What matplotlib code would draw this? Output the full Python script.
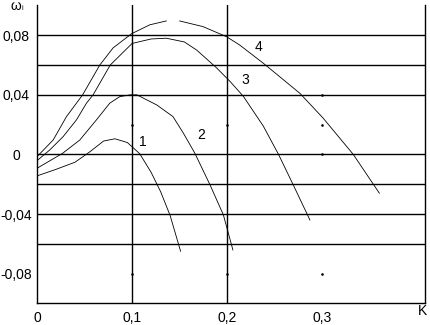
import numpy as np
import matplotlib.pyplot as plt

plt.rcParams['font.family'] = ['Liberation Sans', 'DejaVu Sans']

# curves 1..4 : omega_i (K)
k1 = [0, 0.020, 0.040, 0.055, 0.070, 0.082, 0.095, 0.108, 0.120, 0.130, 0.140, 0.151]
w1 = [-0.0144, -0.0100, -0.0052, 0.0015, 0.0090, 0.0105, 0.0080, 0.0005, -0.0120, -0.0250, -0.0410, -0.0650]

k2 = [0, 0.027, 0.045, 0.0625, 0.0765, 0.087, 0.098, 0.105, 0.126, 0.143, 0.154, 0.166, 0.182, 0.196, 0.206]
w2 = [-0.0093, 0.0008, 0.0097, 0.0232, 0.0344, 0.0388, 0.0400, 0.0400, 0.0332, 0.0254, 0.0142, 0.0008, -0.0205, -0.0406, -0.0641]

k3 = [0, 0.0134, 0.0274, 0.0415, 0.052, 0.059, 0.077, 0.100, 0.120, 0.136, 0.155, 0.168, 0.189, 0.203, 0.217, 0.238, 0.254, 0.2695, 0.287]
w3 = [-0.0042, 0.0030, 0.0119, 0.0232, 0.0344, 0.0400, 0.0600, 0.0745, 0.0775, 0.0780, 0.0755, 0.0700, 0.0580, 0.0490, 0.0390, 0.0190, 0.0, -0.0205, -0.0440]

# gap in curve 4 near its top, as in the original
k4 = [0, 0.017, 0.031, 0.048, 0.066, 0.080, 0.0994, 0.1186, 0.136, np.nan, 0.150, 0.1745, 0.1994, 0.213, 0.238, 0.2765, 0.301, 0.3326, 0.360]
w4 = [-0.0015, 0.0097, 0.0254, 0.0400, 0.0600, 0.0715, 0.0810, 0.0870, 0.0896, np.nan, 0.0896, 0.0858, 0.0790, 0.0735, 0.0612, 0.0410, 0.0243, 0.0, -0.0260]

curve_names = ['1', '2', '3', '4']
label_pos = [(0.111, 0.0083), (0.173, 0.013), (0.2186, 0.050), (0.233, 0.072)]

hlines = [0.08, 0.06, 0.04, 0, -0.02, -0.04, -0.06]
vlines = [0.1, 0.2]
yticks = [0.08, 0.04, 0, -0.04, -0.08]
ylabels = ['0,08', '0,04', '0', '-0,04', '-0,08']
xticks = [0, 0.1, 0.2, 0.3]
xlabels = ['0', '0,1', '0,2', '0,3']

fig = plt.figure(figsize=(4.3, 3.25), dpi=100)
ax = fig.add_axes([37 / 430, 22 / 325, 388 / 430, 298 / 325])
ax.set_xlim(0, 0.408)
ax.set_ylim(-0.0997, 0.1003)

for y in hlines:
    ax.axhline(y, color='black', lw=1.0, zorder=1)
for x in vlines:
    ax.axvline(x, color='black', lw=1.0, zorder=1)

# tiny dots at the unused grid crossings
for x in [0.1, 0.2, 0.3]:
    for y in [0.02, -0.08]:
        ax.plot(x, y, marker='s', ms=0.8, color='black', lw=0)
for y in [0.04, 0]:
    ax.plot(0.3, y, marker='s', ms=0.8, color='black', lw=0)

for k, w in [(k1, w1), (k2, w2), (k3, w3), (k4, w4)]:
    ax.plot(k, w, color='black', lw=0.6, zorder=2)

for name, (x, y) in zip(curve_names, label_pos):
    ax.text(x, y, name, fontsize=10, ha='center', va='center')

ax.spines['top'].set_visible(False)
for s in ['left', 'bottom', 'right']:
    ax.spines[s].set_linewidth(1.0)

ax.set_yticks(yticks)
ax.set_yticklabels(ylabels)
ax.set_xticks(xticks)
ax.set_xticklabels(xlabels)
ax.tick_params(length=0, labelsize=10)
ax.tick_params(axis='y', pad=15)
ax.tick_params(axis='x', pad=6)
for lab in ax.get_yticklabels():
    lab.set_ha('center')

ax.text(0.405, -0.1003, 'K', fontsize=10, ha='center', va='top', clip_on=False)
fig.text(16 / 430, 1 - 6 / 325, 'ω', fontsize=10, ha='center', va='center')
fig.text(21 / 430, 1 - 9 / 325, 'i', fontsize=5, ha='left', va='center')

fig.savefig('out.png', dpi=100)
